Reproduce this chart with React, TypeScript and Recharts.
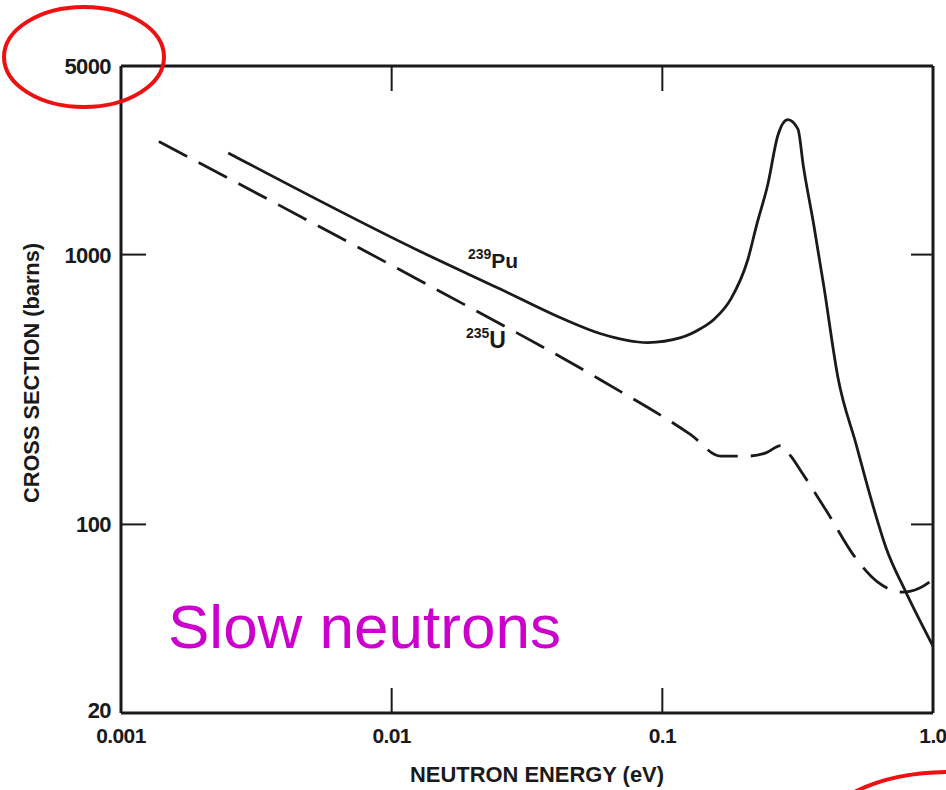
import React from 'react';
import { LineChart, Line, XAxis, YAxis } from 'recharts';

// Axis ticks (log-log frame)
const energyTicks = [0.001, 0.01, 0.1, 1];
const energyTickLabels = ['0.001', '0.01', '0.1', '1.0'];
const sigmaTicks = [20, 100, 1000, 5000];
const sigmaTickLabels = ['20', '100', '1000', '5000'];

// 239Pu fission cross section (barns) vs neutron energy (eV)
const pu239Energy = [
  0.00249, 0.01276, 0.0252, 0.0421, 0.0592, 0.0883, 0.117, 0.1387, 0.155, 0.179,
  0.207, 0.2228, 0.2455, 0.2673, 0.2908, 0.317, 0.332, 0.363, 0.395, 0.446,
  0.52, 0.59, 0.671, 0.794, 1.0,
];
const pu239Sigma = [
  2382, 1027, 745, 583, 509, 472, 492, 532, 575, 684,
  959, 1281, 1826, 2768, 3162, 2917, 2123, 1281, 764, 348,
  198, 124.5, 81.8, 56.1, 35.4,
];

// 235U fission cross section (barns) vs neutron energy (eV)
const u235Energy = [
  0.00138, 0.01245, 0.0592, 0.1273, 0.1644, 0.2037, 0.2414, 0.274, 0.2985, 0.325,
  0.409, 0.511, 0.627, 0.774, 0.889, 1.0,
];
const u235Sigma = [
  2625, 810, 343, 215, 179, 179, 184, 196, 179, 157.8,
  110, 76.5, 61.0, 56.1, 58.0, 62.5,
];

const pu239 = pu239Energy.map((e, i) => ({ e, s: pu239Sigma[i] }));
const u235 = u235Energy.map((e, i) => ({ e, s: u235Sigma[i] }));

const INK = '#1a1a1a';
const FONT = '"Liberation Sans", Arial, Helvetica, sans-serif';
const TICK_LEN = 25;

const isInner = (v: number, ticks: number[]) => v !== ticks[0] && v !== ticks[ticks.length - 1];

const BottomTick = (props: any) => {
  const { x, y, payload } = props;
  const v = payload.value;
  const i = energyTicks.indexOf(v);
  return (
    <g>
      {isInner(v, energyTicks) && (
        <line x1={x} y1={y} x2={x} y2={y - TICK_LEN} stroke={INK} strokeWidth={2} />
      )}
      <text
        x={x}
        y={y + 30}
        textAnchor="middle"
        fontFamily={FONT}
        fontWeight="bold"
        fontSize={21}
        letterSpacing={-0.6}
        fill={INK}
      >
        {energyTickLabels[i]}
      </text>
    </g>
  );
};

const TopTick = (props: any) => {
  const { x, y, payload } = props;
  if (!isInner(payload.value, energyTicks)) return <g />;
  return <line x1={x} y1={y} x2={x} y2={y + TICK_LEN} stroke={INK} strokeWidth={2} />;
};

const LeftTick = (props: any) => {
  const { x, y, payload } = props;
  const v = payload.value;
  const i = sigmaTicks.indexOf(v);
  return (
    <g>
      {isInner(v, sigmaTicks) && (
        <line x1={x} y1={y} x2={x + TICK_LEN} y2={y} stroke={INK} strokeWidth={2} />
      )}
      <text
        x={x - 10}
        y={y + (v === sigmaTicks[0] ? 5 : 8)}
        textAnchor="end"
        fontFamily={FONT}
        fontWeight="bold"
        fontSize={22}
        letterSpacing={-0.6}
        fill={INK}
      >
        {sigmaTickLabels[i]}
      </text>
    </g>
  );
};

const RightTick = (props: any) => {
  const { x, y, payload } = props;
  if (!isInner(payload.value, sigmaTicks)) return <g />;
  return <line x1={x} y1={y} x2={x - 22} y2={y} stroke={INK} strokeWidth={2} />;
};

const axisLine = { stroke: INK, strokeWidth: 3 };

export default function App() {
  return (
    <div style={{ position: 'absolute', left: 0, top: 0, width: 946, height: 790, background: '#fff' }}>
      <LineChart
        width={946}
        height={790}
        margin={{ top: 65, right: 12, bottom: 76, left: 120 }}
      >
        <XAxis
          xAxisId="bottom"
          dataKey="e"
          type="number"
          scale="log"
          domain={[0.001, 1]}
          ticks={energyTicks}
          interval={0}
          allowDataOverflow
          height={1}
          tickSize={0}
          tickMargin={0}
          tickLine={false}
          axisLine={axisLine}
          tick={<BottomTick />}
        />
        <XAxis
          xAxisId="top"
          orientation="top"
          dataKey="e"
          type="number"
          scale="log"
          domain={[0.001, 1]}
          ticks={energyTicks}
          interval={0}
          allowDataOverflow
          height={1}
          tickSize={0}
          tickMargin={0}
          tickLine={false}
          axisLine={axisLine}
          tick={<TopTick />}
        />
        <YAxis
          yAxisId="left"
          type="number"
          scale="log"
          domain={[20, 5000]}
          ticks={sigmaTicks}
          interval={0}
          allowDataOverflow
          width={1}
          tickSize={0}
          tickMargin={0}
          tickLine={false}
          axisLine={axisLine}
          tick={<LeftTick />}
        />
        <YAxis
          yAxisId="right"
          orientation="right"
          type="number"
          scale="log"
          domain={[20, 5000]}
          ticks={sigmaTicks}
          interval={0}
          allowDataOverflow
          width={1}
          tickSize={0}
          tickMargin={0}
          tickLine={false}
          axisLine={axisLine}
          tick={<RightTick />}
        />
        <Line
          xAxisId="bottom"
          yAxisId="left"
          data={pu239}
          dataKey="s"
          type="monotone"
          stroke={INK}
          strokeWidth={2.8}
          dot={false}
          activeDot={false}
          isAnimationActive={false}
        />
        <Line
          xAxisId="bottom"
          yAxisId="left"
          data={u235}
          dataKey="s"
          type="monotone"
          stroke={INK}
          strokeWidth={2.8}
          strokeDasharray="32 13"
          dot={false}
          activeDot={false}
          isAnimationActive={false}
        />
      </LineChart>

      <svg
        width={946}
        height={790}
        style={{ position: 'absolute', left: 0, top: 0, pointerEvents: 'none', overflow: 'hidden' }}
      >
        {/* axis titles */}
        <text
          x={537}
          y={782}
          textAnchor="middle"
          fontFamily={FONT}
          fontWeight="bold"
          fontSize={22}
          textLength={254}
          lengthAdjust="spacingAndGlyphs"
          fill={INK}
        >
          NEUTRON ENERGY (eV)
        </text>
        <text
          transform="translate(39 373) rotate(-90)"
          textAnchor="middle"
          fontFamily={FONT}
          fontWeight="bold"
          fontSize={22}
          textLength={260}
          lengthAdjust="spacingAndGlyphs"
          fill={INK}
        >
          CROSS SECTION (barns)
        </text>

        {/* curve labels */}
        <text x={468} y={268} fontFamily={FONT} fontWeight="bold" fill={INK}>
          <tspan fontSize={14} dy={-9}>239</tspan>
          <tspan fontSize={21} dy={9}>Pu</tspan>
        </text>
        <text x={466} y={348} fontFamily={FONT} fontWeight="bold" fill={INK}>
          <tspan fontSize={14} dy={-10}>235</tspan>
          <tspan fontSize={23} dy={10}>U</tspan>
        </text>

        {/* annotation */}
        <text x={168} y={648} fontFamily={FONT} fontSize={62} fill="#cc00cc">
          Slow neutrons
        </text>
        <ellipse cx={84} cy={57} rx={80} ry={50} fill="none" stroke="#ee1111" strokeWidth={4} />
        <ellipse cx={950} cy={840} rx={135} ry={68} fill="none" stroke="#ee1111" strokeWidth={4} />
      </svg>
    </div>
  );
}
